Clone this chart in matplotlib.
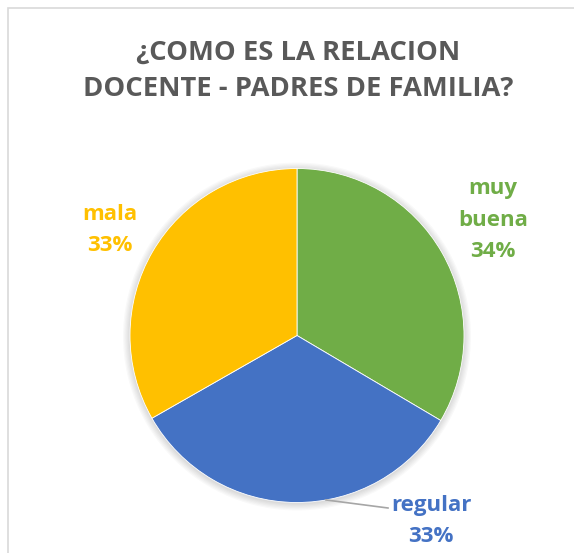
import matplotlib
matplotlib.use('Agg')
import matplotlib.pyplot as plt
from matplotlib.patches import Rectangle, Circle
import numpy as np

# Datos del grafico
categorias = ['muy\nbuena', 'regular', 'mala']
valores = [33.5, 33.25, 33.25]
porcentajes = ['34%', '33%', '33%']
colores = ['#70AD47', '#4472C4', '#FFC000']
titulo = '¿COMO ES LA RELACION\nDOCENTE - PADRES DE FAMILIA?'

W, H = 574, 553
fig = plt.figure(figsize=(W / 100, H / 100), dpi=100)
ax = fig.add_axes([0, 0, 1, 1])

centro = (297, H - 335.5)
radio = 167

# Sombra suave alrededor del pastel
for i in range(6):
    ax.add_patch(Circle((centro[0], centro[1] - 1), radio + 1 + i * 1.2, color='black',
                        alpha=0.025, linewidth=0, zorder=1))

wedges, _ = ax.pie(valores, colors=colores, startangle=90, counterclock=False,
                   center=centro, radius=radio, frame=True,
                   wedgeprops=dict(edgecolor='white', linewidth=0.6, zorder=2))
ax.set_xlim(0, W)
ax.set_ylim(0, H)
ax.axis('off')

# Marco del area del grafico
ax.add_patch(Rectangle((8, -20), W, H - 8 + 20, fill=False, edgecolor='#D9D9D9', linewidth=1.2))

# Etiquetas de datos
pos_etiquetas = [(493, H - 220), (431, H - 521), (110, H - 230)]
for cat, pct, c, p in zip(categorias, porcentajes, colores, pos_etiquetas):
    ax.text(p[0], p[1], f'{cat}\n{pct}', color=c, fontsize=16, fontweight='bold',
            family='Open Sans', ha='center', va='center', linespacing=1.65, zorder=5)

# Linea guia de "regular"
ang = np.deg2rad(-80)
x0 = centro[0] + radio * np.cos(ang)
y0 = centro[1] + radio * np.sin(ang)
ax.plot([x0, 388], [y0, H - 508], color='#A6A6A6', linewidth=1.2, zorder=3)

# Titulo
ax.text(298, H - 71, titulo, color='#595959', fontsize=19.7, fontweight='bold',
        family='Open Sans', ha='center', va='center', linespacing=1.52)

fig.savefig('out.png', dpi=100)
